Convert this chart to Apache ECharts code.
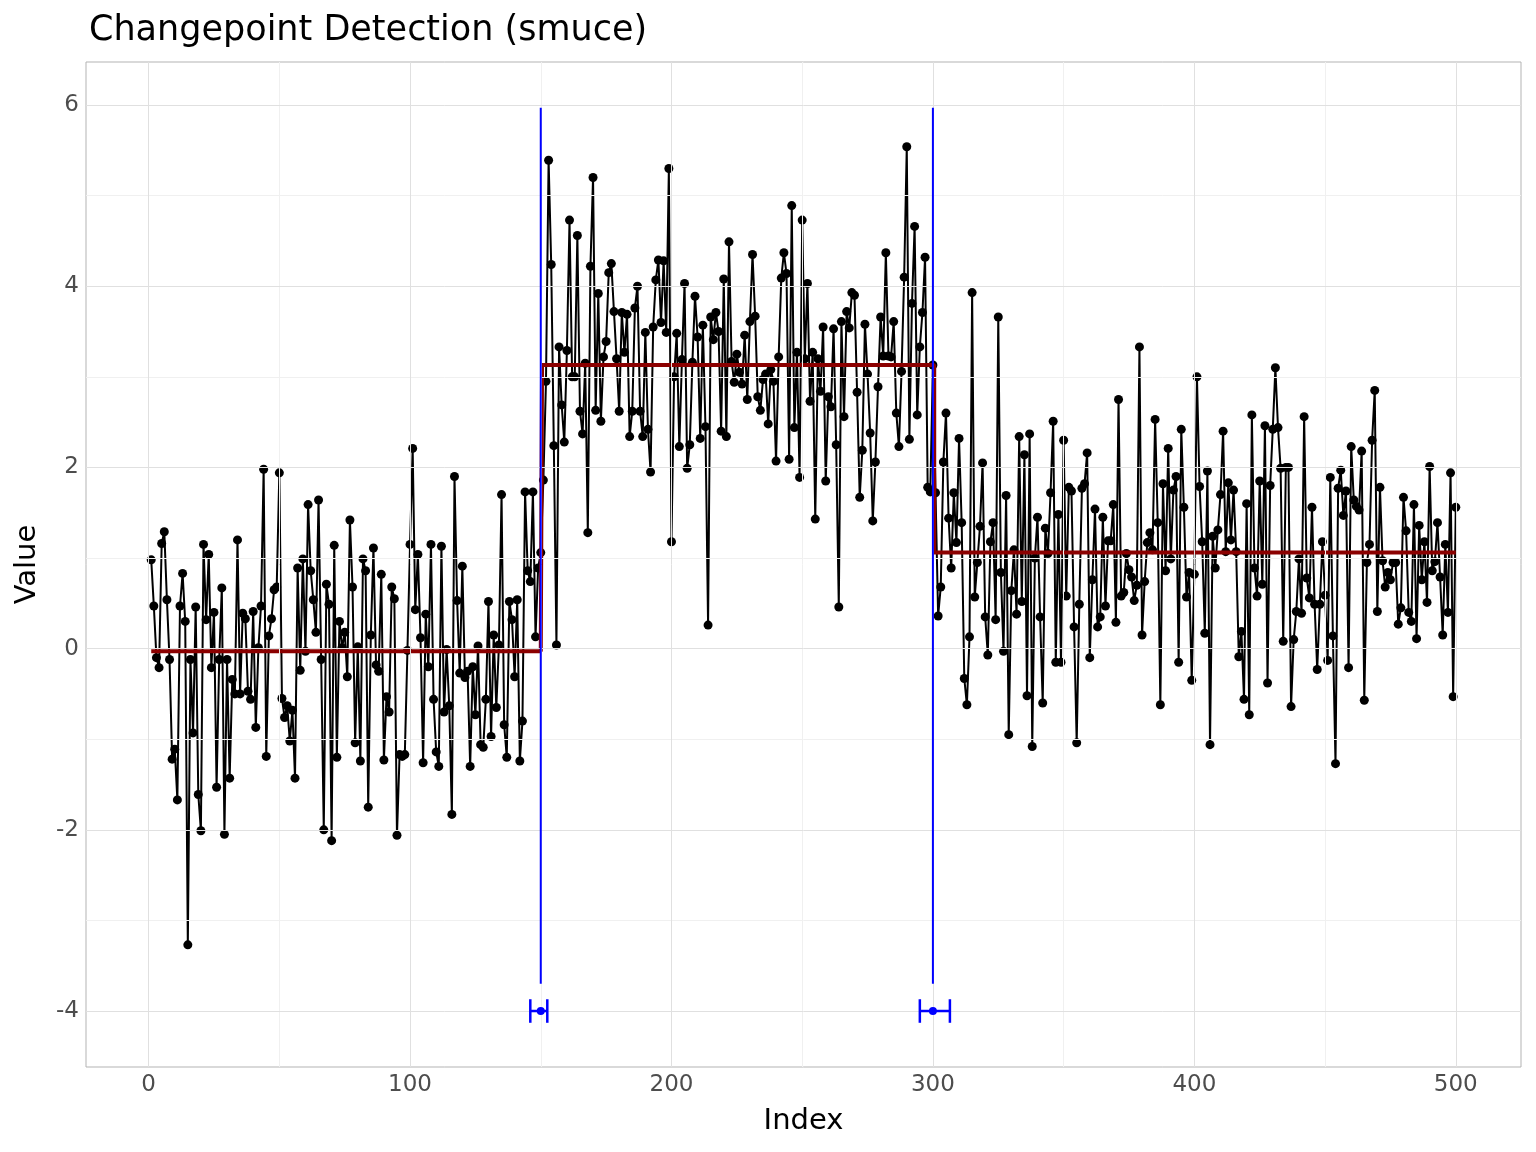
<!DOCTYPE html>
<html>
<head>
<meta charset="utf-8">
<title>Changepoint Detection (smuce)</title>
<script src="https://cdn.jsdelivr.net/npm/echarts@6/dist/echarts.min.js"></script>
<style>
  html, body { margin: 0; padding: 0; background: #fff; }
  #chart { width: 1536px; height: 1152px; }
</style>
</head>
<body>
<div id="chart"></div>
<script>
const values = [
  0.98, 0.47, -0.10, -0.21, 1.16, 1.29, 0.54, -0.12, -1.22, -1.11,
  -1.67, 0.47, 0.83, 0.30, -3.27, -0.12, -0.93, 0.46, -1.61, -2.01,
  1.15, 0.32, 1.04, -0.21, 0.40, -1.53, -0.12, 0.67, -2.05, -0.12,
  -1.43, -0.34, -0.50, 1.20, -0.50, 0.39, 0.33, -0.47, -0.56, 0.41,
  -0.87, 0.01, 0.47, 1.98, -1.19, 0.14, 0.33, 0.65, 0.68, 1.94,
  -0.55, -0.76, -0.63, -1.02, -0.68, -1.43, 0.89, -0.24, 0.99, -0.03,
  1.59, 0.86, 0.54, 0.18, 1.64, -0.12, -2.00, 0.71, 0.49, -2.12,
  1.14, -1.20, 0.30, 0.01, 0.18, -0.31, 1.42, 0.68, -1.04, 0.02,
  -1.24, 0.99, 0.86, -1.75, 0.15, 1.11, -0.18, -0.25, 0.82, -1.23,
  -0.53, -0.70, 0.68, 0.55, -2.06, -1.17, -1.19, -1.17, -0.02, 1.15,
  2.21, 0.43, 1.04, 0.12, -1.26, 0.38, -0.20, 1.15, -0.56, -1.14,
  -1.30, 1.13, -0.70, -0.01, -0.63, -1.83, 1.90, 0.53, -0.27, 0.91,
  -0.32, -0.25, -1.30, -0.20, -0.73, 0.03, -1.06, -1.09, -0.56, 0.52,
  -0.97, 0.15, -0.65, 0.04, 1.70, -0.84, -1.20, 0.52, 0.32, -0.31,
  0.54, -1.24, -0.80, 1.73, 0.86, 0.74, 1.73, 0.13, 0.89, 1.06,
  1.86, 2.95, 5.39, 4.24, 2.24, 0.04, 3.33, 2.69, 2.28, 3.29,
  4.73, 3.00, 3.00, 4.56, 2.62, 2.37, 3.15, 1.28, 4.22, 5.20,
  2.63, 3.92, 2.51, 3.22, 3.39, 4.15, 4.25, 3.72, 3.20, 2.62,
  3.71, 3.27, 3.69, 2.34, 2.62, 3.76, 4.00, 2.62, 2.34, 3.49,
  2.42, 1.95, 3.55, 4.07, 4.29, 3.60, 4.28, 3.49, 5.30, 1.18,
  3.00, 3.48, 2.23, 3.19, 4.03, 1.99, 2.25, 3.16, 3.89, 3.44,
  2.32, 3.57, 2.45, 0.26, 3.66, 3.41, 3.71, 3.50, 2.40, 4.08,
  2.34, 4.49, 3.17, 2.94, 3.25, 3.05, 2.92, 3.46, 2.75, 3.61,
  4.35, 3.67, 2.78, 2.63, 2.97, 3.03, 2.48, 3.08, 2.95, 2.07,
  3.22, 4.09, 4.37, 4.14, 2.09, 4.89, 2.44, 3.27, 1.89, 4.73,
  3.20, 4.03, 2.73, 3.27, 1.43, 3.20, 2.84, 3.55, 1.85, 2.78,
  2.67, 3.53, 2.25, 0.46, 3.61, 2.56, 3.72, 3.54, 3.93, 3.90,
  2.83, 1.67, 2.19, 3.58, 3.03, 2.38, 1.41, 2.06, 2.89, 3.66,
  3.23, 4.37, 3.23, 3.22, 3.61, 2.60, 2.23, 3.06, 4.10, 5.54,
  2.31, 3.81, 4.66, 2.58, 3.33, 3.71, 4.32, 1.78, 1.73, 3.13,
  1.72, 0.36, 0.68, 2.06, 2.60, 1.44, 0.89, 1.72, 1.17, 2.32,
  1.39, -0.33, -0.62, 0.13, 3.93, 0.57, 0.95, 1.35, 2.05, 0.35,
  -0.07, 1.18, 1.39, 0.32, 3.66, 0.84, -0.03, 1.69, -0.95, 0.64,
  1.09, 0.38, 2.34, 0.52, 2.14, -0.52, 2.37, -1.08, 1.00, 1.45,
  0.35, -0.60, 1.33, 1.05, 1.72, 2.51, -0.15, 1.48, -0.15, 2.30,
  0.58, 1.78, 1.74, 0.24, -1.04, 0.49, 1.77, 1.82, 2.16, -0.10,
  0.76, 1.54, 0.24, 0.35, 1.45, 0.47, 1.19, 1.19, 1.59, 0.29,
  2.75, 0.58, 0.62, 1.05, 0.87, 0.79, 0.53, 0.70, 3.33, 0.15,
  0.74, 1.17, 1.28, 1.09, 2.53, 1.39, -0.62, 1.82, 0.86, 2.21,
  0.99, 1.75, 1.90, -0.15, 2.42, 1.56, 0.57, 0.84, -0.35, 0.82,
  3.00, 1.79, 1.18, 0.17, 1.96, -1.06, 1.24, 0.89, 1.31, 1.70,
  2.40, 1.07, 1.83, 1.20, 1.75, 1.07, -0.09, 0.19, -0.56, 1.60,
  -0.73, 2.58, 0.89, 0.58, 1.85, 0.71, 2.46, -0.38, 1.80, 2.42,
  3.10, 2.44, 1.99, 0.08, 2.00, 2.00, -0.64, 0.10, 0.41, 0.99,
  0.39, 2.56, 0.78, 0.56, 1.56, 0.49, -0.23, 0.49, 1.18, 0.59,
  -0.13, 1.89, 0.14, -1.27, 1.77, 1.97, 1.47, 1.74, -0.21, 2.23,
  1.64, 1.57, 1.53, 2.18, -0.57, 0.95, 1.15, 2.30, 2.85, 0.41,
  1.78, 0.97, 0.68, 0.84, 0.76, 0.95, 0.95, 0.27, 0.45, 1.67,
  1.30, 0.40, 0.30, 1.59, 0.11, 1.36, 0.76, 1.18, 0.51, 2.01,
  0.86, 0.96, 1.39, 0.79, 0.15, 1.15, 0.40, 1.94, -0.53, 1.56
];

// smuce result
const changepoints = [150, 300];
const cptLower = [146, 295];
const cptUpper = [152.5, 306.5];
const segmentMeans = [-0.03, 3.13, 1.06];

// axes
const xTicks = [0, 100, 200, 300, 400, 500];
const xMinor = [50, 150, 250, 350, 450];
const yTicks = [-4, -2, 0, 2, 4, 6];
const yMinor = [-3, -1, 1, 3, 5];

const FONT = 'DejaVu Sans';
const errY = -4;          // level of the confidence interval bars
const vlineFrom = -3.7;   // blue changepoint lines
const vlineTo = 5.97;

let points = values.map((v, i) => [i + 1, v]);
let fitted = values.map((v, i) => {
  let seg = changepoints.filter(c => c < i + 1).length;
  return [i + 1, segmentMeans[seg]];
});
let cptData = changepoints.map((c, k) => [c, cptLower[k], cptUpper[k], errY]);

// grid lines drawn as mark lines so they sit on the round values
let gridLines = [];
xMinor.forEach(v => gridLines.push({ xAxis: v, lineStyle: { color: '#f0f0f0', width: 1 } }));
yMinor.forEach(v => gridLines.push({ yAxis: v, lineStyle: { color: '#f0f0f0', width: 1 } }));
xTicks.forEach(v => gridLines.push({ xAxis: v, lineStyle: { color: '#e0e0e0', width: 1 } }));
yTicks.forEach(v => gridLines.push({ yAxis: v, lineStyle: { color: '#e0e0e0', width: 1 } }));

let myChart = echarts.init(document.getElementById('chart'), null, { renderer: 'canvas' });

myChart.setOption({
  animation: false,
  backgroundColor: '#fff',
  title: {
    text: 'Changepoint Detection (smuce)',
    left: 84,
    top: 8,
    textStyle: { fontFamily: FONT, fontSize: 35, fontWeight: 'normal', color: '#000' }
  },
  grid: {
    left: 86,
    right: 15,
    top: 62,
    bottom: 85,
    show: true,
    backgroundColor: '#fff',
    borderColor: '#b3b3b3',
    borderWidth: 1
  },
  xAxis: {
    type: 'value',
    min: -23.95,
    max: 524.95,
    name: 'Index',
    nameLocation: 'middle',
    nameGap: 40,
    nameTextStyle: { fontFamily: FONT, fontSize: 29, color: '#000' },
    axisLine: { show: false },
    axisTick: { show: true, customValues: xTicks, length: 4, lineStyle: { color: '#b3b3b3', width: 1 } },
    axisLabel: { customValues: xTicks, color: '#4d4d4d', fontFamily: FONT, fontSize: 23, margin: 7 },
    splitLine: { show: false }
  },
  yAxis: {
    type: 'value',
    min: -4.618,
    max: 6.475,
    name: 'Value',
    nameLocation: 'middle',
    nameGap: 44,
    nameRotate: 90,
    nameTextStyle: { fontFamily: FONT, fontSize: 29, color: '#000' },
    axisLine: { show: false },
    axisTick: { show: true, customValues: yTicks, length: 4, lineStyle: { color: '#b3b3b3', width: 1 } },
    axisLabel: { customValues: yTicks, color: '#4d4d4d', fontFamily: FONT, fontSize: 23, margin: 7 },
    splitLine: { show: false }
  },
  series: [
    {
      // holder for the panel grid
      type: 'line',
      z: 1,
      silent: true,
      data: [[0, 0]],
      showSymbol: false,
      lineStyle: { opacity: 0 },
      markLine: {
        silent: true,
        symbol: ['none', 'none'],
        label: { show: false },
        lineStyle: { type: 'solid' },
        data: gridLines
      }
    },
    {
      name: 'data',
      type: 'line',
      z: 3,
      data: points,
      symbol: 'circle',
      symbolSize: 9,
      showAllSymbol: true,
      itemStyle: { color: '#000' },
      lineStyle: { color: '#000', width: 2 }
    },
    {
      name: 'fit',
      type: 'line',
      z: 4,
      step: 'middle',
      data: fitted,
      showSymbol: false,
      lineStyle: { color: '#8b0000', width: 4 }
    },
    {
      name: 'changepoints',
      type: 'custom',
      z: 5,
      data: changepoints.map(c => [c, vlineFrom, vlineTo]),
      encode: { x: 0, y: [1, 2] },
      renderItem: function (params, api) {
        let a = api.coord([api.value(0), api.value(1)]);
        let b = api.coord([api.value(0), api.value(2)]);
        return {
          type: 'line',
          shape: { x1: a[0], y1: a[1], x2: b[0], y2: b[1] },
          style: { stroke: '#0000ff', lineWidth: 2 }
        };
      }
    },
    {
      name: 'intervals',
      type: 'custom',
      z: 6,
      data: cptData,
      encode: { x: [0, 1, 2], y: 3 },
      renderItem: function (params, api) {
        let y = api.value(3);
        let mid = api.coord([api.value(0), y]);
        let lo = api.coord([api.value(1), y]);
        let hi = api.coord([api.value(2), y]);
        let top = api.coord([api.value(1), y + 0.13])[1];
        let bot = api.coord([api.value(1), y - 0.13])[1];
        let st = { stroke: '#0000ff', lineWidth: 2.5 };
        return {
          type: 'group',
          children: [
            { type: 'line', shape: { x1: lo[0], y1: lo[1], x2: hi[0], y2: hi[1] }, style: st },
            { type: 'line', shape: { x1: lo[0], y1: top, x2: lo[0], y2: bot }, style: st },
            { type: 'line', shape: { x1: hi[0], y1: top, x2: hi[0], y2: bot }, style: st },
            { type: 'circle', shape: { cx: mid[0], cy: mid[1], r: 4 }, style: { fill: '#0000ff' } }
          ]
        };
      }
    }
  ]
});

window.addEventListener('resize', function () {
  myChart.resize();
});
</script>
</body>
</html>
